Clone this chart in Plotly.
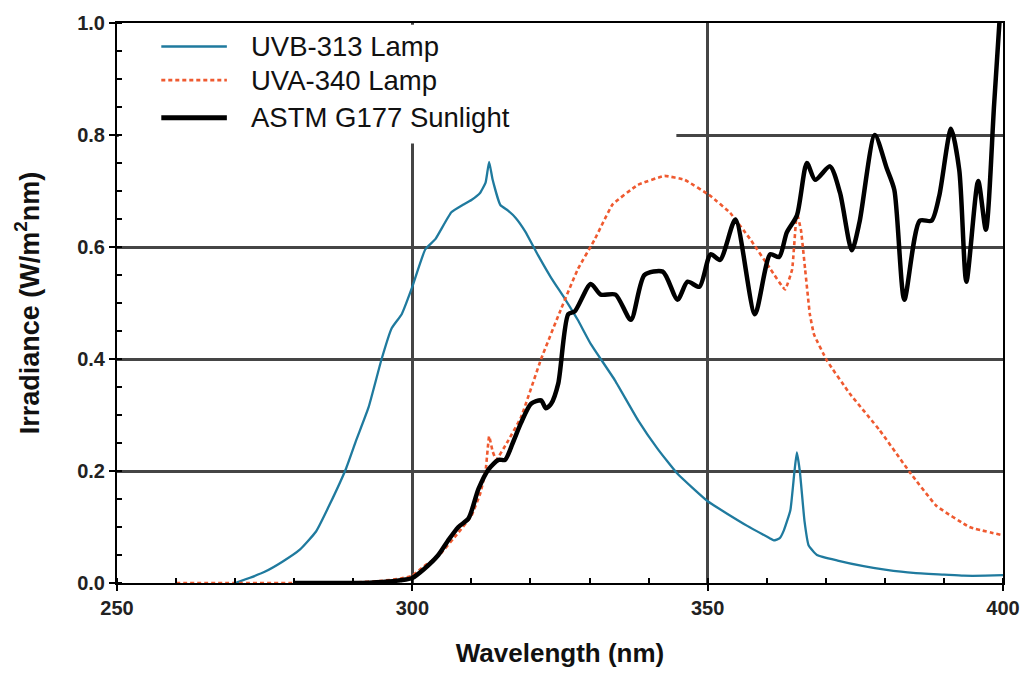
import plotly.graph_objects as go

# UVB-313 lamp
uvb_x = [270, 272.4, 275, 278, 281, 283.7, 286, 288.8, 290.5, 292.6, 294.8, 296.5, 298.2, 299.9,
         302.2, 303.9, 306.6, 308.5, 310, 311.5, 312.4, 313, 313.6, 314.9, 316.2, 317.5, 319.1, 321.3,
         323.5, 325.8, 328, 330.2, 334.3, 338.2, 341.5, 344.9, 350, 356.7, 360.5, 361.2, 362.2, 362.9,
         364, 364.7, 365.1, 365.6, 366.4, 367.1, 368.5, 372, 376.4, 380, 384.8, 390, 393.3, 397, 400]
uvb_y = [0.0, 0.009, 0.02, 0.038, 0.06, 0.092, 0.14, 0.205, 0.255, 0.314, 0.40, 0.455, 0.48, 0.526,
         0.596, 0.614, 0.662, 0.675, 0.684, 0.697, 0.715, 0.752, 0.72, 0.675, 0.665, 0.652, 0.628, 0.585,
         0.545, 0.508, 0.47, 0.427, 0.362, 0.291, 0.24, 0.195, 0.146, 0.102, 0.08, 0.076, 0.08, 0.094,
         0.13, 0.2, 0.233, 0.2, 0.11, 0.067, 0.05, 0.04, 0.03, 0.024, 0.018, 0.015, 0.013, 0.013, 0.014]

# UVA-340 lamp
uva_x = [260, 270, 280, 290, 295, 298, 300, 302, 304.4, 307.8, 310, 311.5, 312.4, 313, 313.6,
         314.2, 316, 318.4, 321.8, 325.2, 328, 330.9, 333.9, 338.2, 342.7, 346.1, 350.5, 353.8,
         357.2, 360.6, 363.1, 364.3, 365.1, 365.8, 366.5, 367.3, 368, 370.2, 374, 379.1, 384.2,
         388.7, 394.3, 400]
uva_y = [0.0, 0.0, 0.0, 0.001, 0.004, 0.008, 0.013, 0.03, 0.048, 0.09, 0.12, 0.16, 0.2, 0.262, 0.235,
         0.22, 0.25, 0.296, 0.40, 0.49, 0.56, 0.614, 0.676, 0.711, 0.727, 0.72, 0.691, 0.661,
         0.614, 0.561, 0.524, 0.56, 0.661, 0.63, 0.56, 0.48, 0.444, 0.397, 0.339, 0.273, 0.198,
         0.138, 0.10, 0.085]

# ASTM G177 sunlight
sun_x = [280, 290, 295, 298, 300, 302, 304.4, 306, 307.8, 309.5, 311.2, 312.9, 314.6, 315.7, 317,
         318.4, 320.1, 321.8, 322.6, 323.5, 324.7, 326.4, 327.5, 330.2, 331.9, 334.4, 337, 339.3,
         342.4, 344.9, 346.6, 348.6, 350.5, 352.1, 354.7, 358, 360.6, 362.1, 363.4, 365.1, 366.8,
         368.2, 370.7, 372.4, 374.4, 375.7, 378.3, 380.3, 381.6, 383.3, 385.9, 387.9, 389.2, 391.2,
         392.6, 393.8, 395.8, 397.1, 398.5, 400]
sun_y = [0.0, 0.0, 0.002, 0.005, 0.009, 0.025, 0.05, 0.075, 0.10, 0.115, 0.168, 0.203, 0.22, 0.22, 0.25,
         0.286, 0.32, 0.326, 0.312, 0.32, 0.356, 0.48, 0.485, 0.534, 0.515, 0.515, 0.47, 0.55,
         0.556, 0.506, 0.538, 0.529, 0.587, 0.577, 0.649, 0.48, 0.587, 0.582, 0.626, 0.656, 0.75,
         0.72, 0.744, 0.697, 0.594, 0.644, 0.80, 0.741, 0.702, 0.506, 0.647, 0.647, 0.691, 0.811,
         0.737, 0.538, 0.718, 0.631, 0.855, 1.1]

series_names = ["UVB-313 Lamp", "UVA-340 Lamp", "ASTM G177 Sunlight"]
x_ticks = [250, 300, 350, 400]
y_ticks = [0.0, 0.2, 0.4, 0.6, 0.8, 1.0]

styles = [
    dict(color="#1f7a9e", width=2.3),
    dict(color="#ef5a30", width=2.6, dash="4px,3px"),
    dict(color="black", width=4.5),
]
smooth = [0.4, 0.3, 0.7]

fig = go.Figure()
for name, xs, ys, st, sm in zip(series_names, [uvb_x, uva_x, sun_x], [uvb_y, uva_y, sun_y], styles, smooth):
    fig.add_trace(go.Scatter(x=xs, y=ys, mode="lines", name=name, showlegend=False,
                             line=dict(shape="spline", smoothing=sm, **st)))

# white area behind legend hiding gridlines
fig.add_shape(type="rect", xref="x", yref="y", x0=250.3, x1=344.7, y0=0.785, y1=0.997,
              fillcolor="white", line=dict(width=0), layer="between")

# legend drawn as sample lines + text (paper coordinates)
leg_rows_y = [0.958, 0.898, 0.831]
for name, st, ly in zip(series_names, styles, leg_rows_y):
    lw = dict(st)
    if name.startswith("ASTM"):
        lw["width"] = 5
    fig.add_shape(type="line", xref="paper", yref="paper", x0=0.05, x1=0.124, y0=ly, y1=ly,
                  line=lw, layer="above")
    fig.add_annotation(xref="paper", yref="paper", x=0.149, y=ly, text=name, showarrow=False,
                       xanchor="left", yanchor="middle",
                       font=dict(size=27.5, color="#111", family="Liberation Sans, Arial, sans-serif"))

fig.update_layout(
    width=1032, height=675,
    margin=dict(l=117, r=23, t=16, b=90),
    paper_bgcolor="white", plot_bgcolor="white",
    font=dict(family="Liberation Sans, Arial, sans-serif", color="black"),
    showlegend=False,
)
fig.update_xaxes(
    range=[250, 400], tickvals=x_ticks, ticks="outside", ticklen=6, tickwidth=1.5, tickcolor="black",
    tickfont=dict(size=20, weight="bold", color="#222"),
    showline=True, linecolor="black", linewidth=2, mirror=True,
    showgrid=True, gridcolor="#454545", gridwidth=2.5, zeroline=False,
    minor=dict(ticks="inside", dtick=10, ticklen=5, tickcolor="black", showgrid=False),
    title=dict(text="Wavelength (nm)", font=dict(size=26, weight="bold", color="#111"), standoff=26),
)
fig.update_yaxes(
    range=[0, 1.0], tickvals=y_ticks, tickformat=".1f", ticks="outside", ticklen=6, tickwidth=1.5,
    tickcolor="black", tickfont=dict(size=20, weight="bold", color="#222"),
    showline=True, linecolor="black", linewidth=2, mirror=True,
    showgrid=True, gridcolor="#454545", gridwidth=2.5, zeroline=False,
    minor=dict(ticks="inside", dtick=0.05, ticklen=5, tickcolor="black", showgrid=False),
    title=dict(text="Irradiance (W/m<sup>2</sup>nm)", font=dict(size=27, weight="bold", color="#111"),
               standoff=30),
)

fig.write_html("out.html")
